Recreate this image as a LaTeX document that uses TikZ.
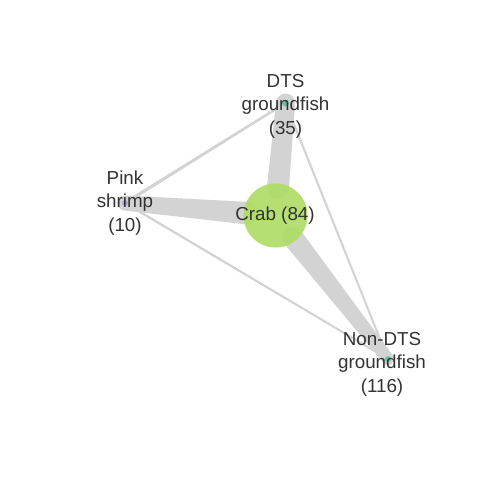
\documentclass[tikz,border=0pt]{standalone}
\usepackage{fontspec}
\setmainfont{Liberation Sans}
\usetikzlibrary{calc,backgrounds}
\definecolor{edgecol}{HTML}{D3D3D3}
\definecolor{crabcol}{HTML}{ADDC63}
\definecolor{tealcol}{HTML}{5CC5A9}
\definecolor{pinkcol}{HTML}{A9A5D9}
\definecolor{txtcol}{HTML}{333333}
\newcommand{\taperedge}[4]{%
  \fill[edgecol] ($(#1)!#3!90:(#2)$) -- ($(#2)!#4!-90:(#1)$) -- ($(#2)!#4!90:(#1)$) -- ($(#1)!#3!-90:(#2)$) -- cycle;
  \fill[edgecol] (#1) circle[radius=#3];
  \fill[edgecol] (#2) circle[radius=#4];}
\tikzset{
  dot/.style={circle, inner sep=0pt, minimum size=#1},
  lab/.style={text=txtcol, align=center, inner sep=0pt, font=\fontsize{18.8}{23.5}\selectfont},
}
\begin{document}
\begin{tikzpicture}[x=1pt,y=-1pt]
  \path[use as bounding box] (0,0) rectangle (480,480);
  % nodes
  \node[dot=64pt, fill=crabcol, fill opacity=0.9] (crab) at (275.5,215.5) {};
  \node[dot=7pt, fill=tealcol] (dts) at (285.5,103) {};
  \node[dot=6pt, fill=pinkcol] (pink) at (125,203) {};
  \node[dot=6pt, fill=tealcol] (nondts) at (388,359) {};
  % edge end points on the crab side
  \coordinate (cd) at ($(crab.center)!28pt!(dts.center)$);
  \coordinate (cp) at ($(crab.center)!28pt!(pink.center)$);
  \coordinate (cn) at ($(crab.center)!28pt!(nondts.center)$);
  \begin{pgfonlayer}{background}
    \fill[white] (0,0) rectangle (480,480);
    \taperedge{pink.center}{dts.center}{1.7pt}{1.2pt}
    \taperedge{pink.center}{nondts.center}{1.2pt}{1.0pt}
    \taperedge{dts.center}{nondts.center}{1.1pt}{1.0pt}
    \taperedge{cd}{dts.center}{11pt}{9.5pt}
    \taperedge{cp}{pink.center}{11.3pt}{7.5pt}
    \taperedge{cn}{nondts.center}{10.5pt}{6pt}
  \end{pgfonlayer}
  % labels
  \node[lab] (crablab) at (275,215.5) {Crab (84)};
  \node[lab] (dtslab) at (285.5,106) {DTS\\groundfish\\(35)};
  \node[lab] (pinklab) at (125,203) {Pink\\shrimp\\(10)};
  \node[lab] (nondtslab) at (382,364) {Non-DTS\\groundfish\\(116)};
\end{tikzpicture}
\end{document}
